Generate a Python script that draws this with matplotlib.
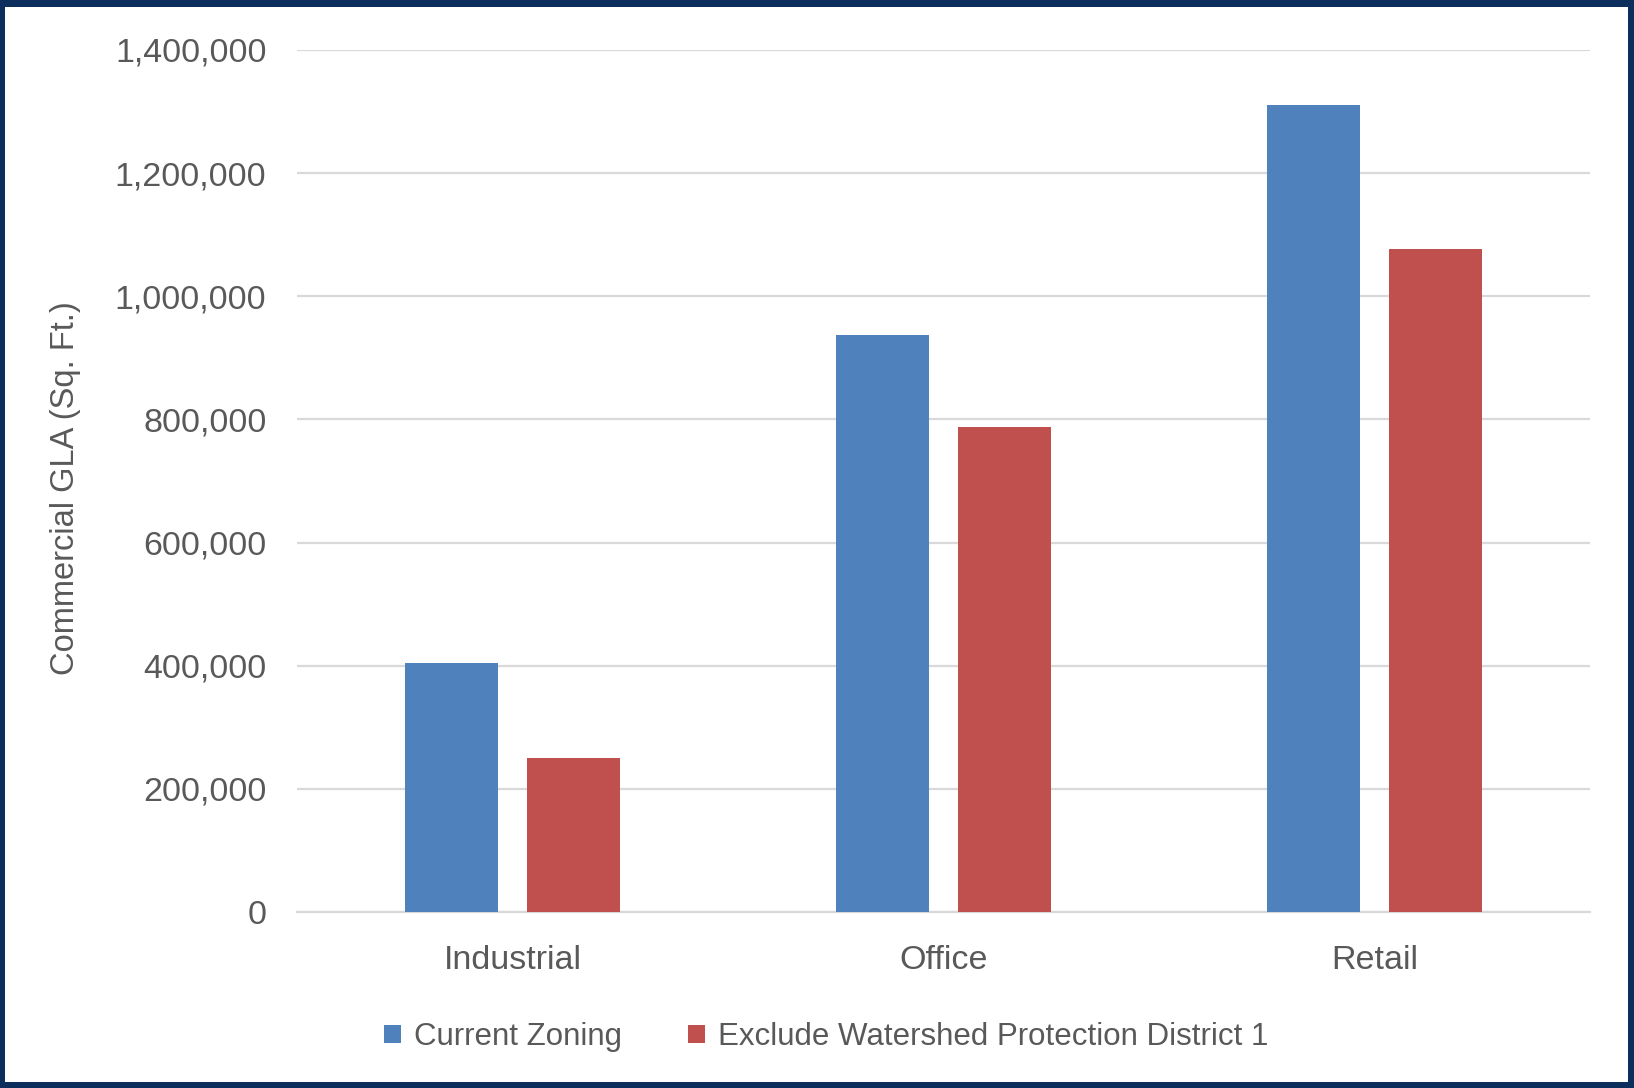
import numpy as np
import matplotlib
matplotlib.use("Agg")
import matplotlib.pyplot as plt
from matplotlib.patches import Rectangle, Patch
from matplotlib.ticker import FuncFormatter

categories = ["Industrial", "Office", "Retail"]
current_zoning = [405000, 937000, 1311000]
exclude_wpd1 = [250000, 787000, 1076000]
series_names = ["Current Zoning", "Exclude Watershed Protection District 1"]

blue = "#4f81bd"
red = "#c0504d"
text_col = "#595959"
grid_col = "#d9d9d9"

plt.rcParams["font.family"] = ["Liberation Sans", "DejaVu Sans"]

fig = plt.figure(figsize=(16.34, 10.88), dpi=100)
fig.patch.set_facecolor("#0b2e5c")

# white panel inside the navy frame
W, H = 1634, 1088
fig.patches.append(Rectangle((5 / W, 6 / H), (1628 - 5) / W, (1081 - 6) / H,
                             transform=fig.transFigure, facecolor="white",
                             edgecolor="none", zorder=-10))

ax = fig.add_axes([297 / W, 1 - 912 / H, (1590 - 297) / W, (912 - 50) / H])
ax.set_facecolor("none")
ax.set_zorder(5)

x = np.arange(len(categories))
bw = 0.218
off = bw / 2 + 0.0325
ax.bar(x - off, current_zoning, bw, color=blue, zorder=3)
ax.bar(x + off, exclude_wpd1, bw, color=red, zorder=3)

ax.set_xlim(-0.5, 2.5)
ax.set_ylim(0, 1400000)
ax.set_yticks(np.arange(0, 1400001, 200000))
ax.yaxis.set_major_formatter(FuncFormatter(lambda v, p: f"{int(v):,}"))
ax.set_xticks(x)
ax.set_xticklabels(categories)

ax.grid(axis="y", color=grid_col, linewidth=1.6, zorder=0)
for s in ["top", "right", "left"]:
    ax.spines[s].set_visible(False)
ax.spines["bottom"].set_color(grid_col)
ax.spines["bottom"].set_linewidth(1.6)

ax.tick_params(axis="y", length=0, pad=22, labelsize=24.5, labelcolor=text_col)
ax.tick_params(axis="x", length=0, pad=24, labelsize=24.5, labelcolor=text_col)

ax.set_ylabel("Commercial GLA (Sq. Ft.)", fontsize=23.5, color=text_col)
ax.yaxis.set_label_coords((81 - 297) / (1590 - 297), (912 - 488) / (912 - 50))

handles = [Patch(facecolor=blue), Patch(facecolor=red)]
fig.legend(handles, series_names, loc="center", ncol=2,
           bbox_to_anchor=(826 / W, 1 - 1037 / H), frameon=False,
           fontsize=22.5, labelcolor=text_col, handlelength=0.54,
           handleheight=0.54, handletextpad=0.42, columnspacing=2.1)

fig.savefig("out.png", dpi=100, facecolor=fig.get_facecolor())
